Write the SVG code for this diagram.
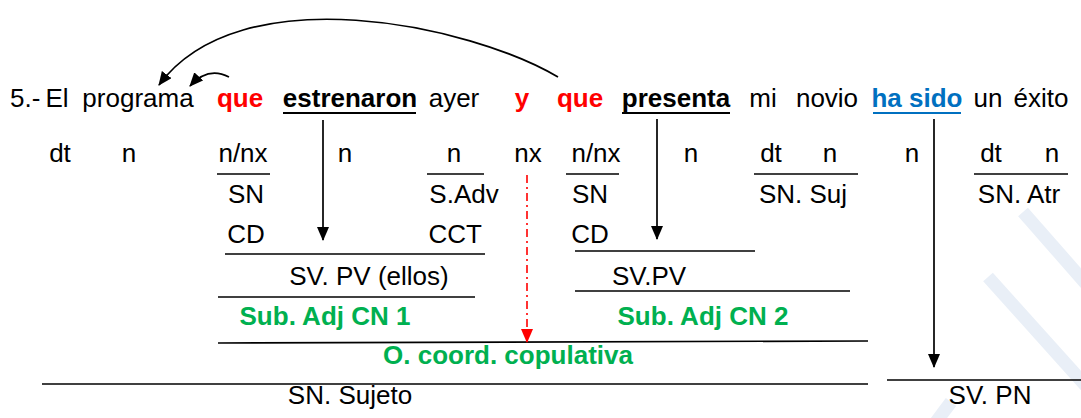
<svg xmlns="http://www.w3.org/2000/svg" width="1081" height="418" viewBox="0 0 1081 418">
<defs>
<style>
text{font-family:"Liberation Sans",Arial,sans-serif;font-size:26px;fill:#000;text-anchor:middle}
.b{font-weight:bold}
.r{fill:#ff0000;font-weight:bold}
.g{fill:#00b050;font-weight:bold}
.bl{fill:#0070c0;font-weight:bold}
.ln{stroke:#000;stroke-width:1.6;fill:none}
.ul{stroke:#000;stroke-width:2.2}
.arr{stroke:#000;stroke-width:1.7;fill:none}
.wm{stroke:#e9eff7;stroke-width:13;fill:none}
</style>
<marker id="ah" viewBox="0 0 14 12" refX="13" refY="6" markerWidth="14" markerHeight="12" markerUnits="userSpaceOnUse" orient="auto">
<path d="M0,0 L14,6 L0,12 Z" fill="#000"/>
</marker>
<marker id="ahr" viewBox="0 0 14 12" refX="13" refY="6" markerWidth="14" markerHeight="12" markerUnits="userSpaceOnUse" orient="auto">
<path d="M0,0 L14,6 L0,12 Z" fill="#ff0000"/>
</marker>
</defs>
<rect width="1081" height="418" fill="#fff"/>
<g id="watermark">
<line class="wm" x1="1023" y1="212" x2="1095" y2="294"/>
<line class="wm" x1="988" y1="277" x2="1095" y2="396"/>
<line class="wm" x1="933" y1="426" x2="951" y2="402"/>
</g>
<g id="sentence">
<text x="10" y="107" style="text-anchor:start">5.-</text>
<g id="w-el"><text x="57" y="107">El</text></g>
<g id="w-programa"><text x="138" y="107">programa</text></g>
<g id="w-que1"><text class="r" x="240" y="107">que</text></g>
<g id="w-estrenaron"><text class="b" x="350" y="107">estrenaron</text><line class="ul" x1="283" y1="113" x2="416" y2="113"/></g>
<g id="w-ayer"><text x="454" y="107">ayer</text></g>
<g id="w-y"><text class="r" x="522" y="107">y</text></g>
<g id="w-que2"><text class="r" x="580" y="107">que</text></g>
<g id="w-presenta"><text class="b" x="676" y="107">presenta</text><line class="ul" x1="622" y1="113" x2="730" y2="113"/></g>
<g id="w-mi"><text x="763" y="107">mi</text></g>
<g id="w-novio"><text x="827" y="107">novio</text></g>
<g id="w-hasido"><text class="bl" x="917" y="107">ha sido</text><line x1="873" y1="113" x2="961" y2="113" stroke="#0070c0" stroke-width="2.2"/></g>
<g id="w-un"><text x="988" y="107">un</text></g>
<g id="w-exito"><text x="1041" y="107">éxito</text></g>
</g>
<g id="row2">
<text x="60" y="162">dt</text>
<text x="129" y="162">n</text>
<text x="243" y="162">n/nx</text>
<text x="345" y="162">n</text>
<text x="454" y="162">n</text>
<text x="528" y="162">nx</text>
<text x="596" y="162">n/nx</text>
<text x="691" y="162">n</text>
<text x="771" y="162">dt</text>
<text x="830" y="162">n</text>
<text x="912" y="162">n</text>
<text x="991" y="162">dt</text>
<text x="1052" y="162">n</text>
</g>
<g id="sn-cd1"><line class="ln" x1="217" y1="174" x2="270" y2="174"/><text x="246" y="203">SN</text><text x="246" y="243">CD</text></g>
<g id="sadv-cct"><line class="ln" x1="427" y1="174" x2="484" y2="174"/><text x="464" y="203">S.Adv</text><text x="482" y="243" style="text-anchor:end">CCT</text></g>
<g id="sn-cd2"><line class="ln" x1="566" y1="174" x2="619" y2="174"/><text x="590" y="203">SN</text><text x="590" y="243">CD</text></g>
<g id="sn-suj"><line class="ln" x1="754" y1="174" x2="858" y2="174"/><text x="803" y="203">SN. Suj</text></g>
<g id="sn-atr"><line class="ln" x1="974" y1="174" x2="1068" y2="174"/><text x="1019" y="203">SN. Atr</text></g>
<g id="sv-pv1"><line class="ln" x1="225" y1="254" x2="485" y2="254"/><text x="369" y="285">SV. PV (ellos)</text></g>
<g id="sv-pv2"><line class="ln" x1="575" y1="251" x2="755" y2="251"/><text x="649" y="285">SV.PV</text></g>
<g id="sub1"><line class="ln" x1="218" y1="297" x2="475" y2="297"/><text class="g" x="325" y="325">Sub. Adj CN 1</text></g>
<g id="sub2"><line class="ln" x1="575" y1="291" x2="850" y2="291"/><text class="g" x="703" y="325">Sub. Adj CN 2</text></g>
<g id="coord"><line class="ln" x1="218" y1="343" x2="868" y2="341"/><text class="g" x="508" y="364">O. coord. copulativa</text></g>
<g id="sn-sujeto"><line class="ln" x1="42" y1="384" x2="868" y2="384"/><text x="350" y="404">SN. Sujeto</text></g>
<g id="sv-pn"><line class="ln" x1="887" y1="380" x2="1081" y2="380"/><text x="990" y="404">SV. PN</text></g>
<g id="connectors">
<path class="arr" d="M558,77 C470,25 240,-25 159,85" marker-end="url(#ah)"/>
<path class="arr" d="M229,77 Q208,66 190,86" marker-end="url(#ah)"/>
<line class="arr" x1="323" y1="120" x2="323" y2="240" marker-end="url(#ah)"/>
<line class="arr" x1="657" y1="119" x2="657" y2="239" marker-end="url(#ah)"/>
<line class="arr" x1="934" y1="119" x2="934" y2="367" marker-end="url(#ah)"/>
<line x1="527" y1="175" x2="527" y2="342" stroke="#ff0000" stroke-width="1.6" stroke-dasharray="8 4 2 4" marker-end="url(#ahr)"/>
</g>
</svg>
